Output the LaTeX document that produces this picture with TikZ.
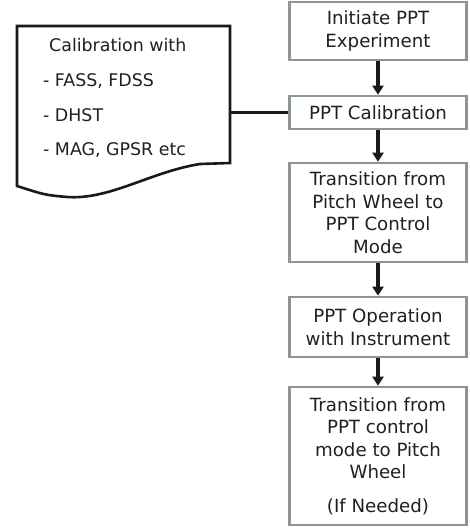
\documentclass[tikz,border=0pt]{standalone}
\usepackage{fontspec}
\setmainfont{DejaVu Sans}
\usetikzlibrary{arrows.meta}
\definecolor{boxgray}{HTML}{8E9597}
\definecolor{txt}{HTML}{231F20}
\begin{document}
\begin{tikzpicture}[x=1pt,y=-1pt,
  fbox/.style={draw=boxgray, line width=2.6pt, fill=white, minimum width=177pt,
    align=center, inner sep=0pt, text=txt,
    font=\fontsize{18.2}{22.5}\selectfont},
  flow/.style={line width=3.4pt, draw=black!90, -{Triangle[width=11pt,length=9pt]}},
  doctext/.style={anchor=base west, inner sep=0pt, text=txt, font=\fontsize{17.4}{22}\selectfont}]
\useasboundingbox (0,0) rectangle (470,529);
% right column
\node[fbox, minimum height=58pt] (b1) at (378,31) {Initiate PPT\\Experiment};
\node[fbox, minimum height=33pt] (b2) at (378,112.5) {PPT Calibration};
\node[fbox, minimum height=99pt] (b3) at (378,212.5) {Transition from\\Pitch Wheel to\\PPT Control\\Mode};
\node[fbox, minimum height=60pt] (b4) at (378,327) {PPT Operation\\with Instrument};
\node[fbox, minimum height=138pt] (b5) at (378,456) {Transition from\\PPT control\\mode to Pitch\\Wheel\\[11pt](If Needed)};
\draw[flow] (b1) -- (b2);
\draw[flow] (b2) -- (b3);
\draw[flow] (b3) -- (b4);
\draw[flow] (b4) -- (b5);
% document shape
\draw[line width=2.6pt, draw=black!90, fill=white, line join=miter]
  (17,26) -- (230,26) -- (230,163) -- (200,164)
  .. controls (150,172) and (110,200) .. (67,197)
  .. controls (45,195) .. (17,186) -- cycle;
\coordinate (docR) at (230,112.5);
\node[doctext] (d0) at (49,52) {Calibration with};
\node[doctext] (d1) at (43,87) {- FASS, FDSS};
\node[doctext] (d2) at (43,122) {- DHST};
\node[doctext] (d3) at (43,156) {- MAG, GPSR etc};
\draw[line width=2.6pt, draw=black!90] (docR) -- (b2.west);
\end{tikzpicture}
\end{document}
